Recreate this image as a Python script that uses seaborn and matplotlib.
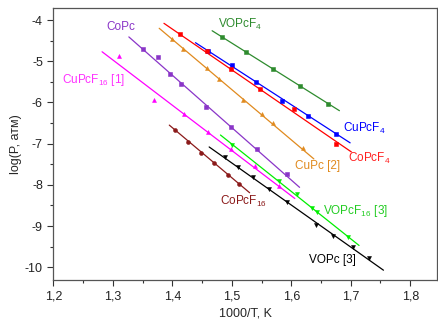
import numpy as np
import pandas as pd
import matplotlib
matplotlib.use("Agg")
import matplotlib.pyplot as plt
import seaborn as sns
from matplotlib.ticker import MultipleLocator, FuncFormatter

sns.set_style("ticks")
plt.rcParams['font.family'] = ['Liberation Sans', 'DejaVu Sans']
plt.rcParams['mathtext.fontset'] = 'custom'
plt.rcParams['mathtext.rm'] = 'Liberation Sans'
plt.rcParams['mathtext.it'] = 'Liberation Sans'

# ---- data ----
series_names = ["VOPcF4", "CuPcF4", "CoPcF4", "CuPc [2]", "CoPc",
                "CuPcF16 [1]", "CoPcF16", "VOPcF16 [3]", "VOPc [3]"]

vopcf4_x = [1.484, 1.524, 1.569, 1.615, 1.662]
vopcf4_y = [-4.42, -4.78, -5.19, -5.60, -6.03]

cupcf4_x = [1.460, 1.500, 1.541, 1.585, 1.628, 1.676]
cupcf4_y = [-4.75, -5.10, -5.50, -5.96, -6.32, -6.77]

copcf4_x = [1.413, 1.458, 1.498, 1.547, 1.605, 1.676]
copcf4_y = [-4.35, -4.75, -5.19, -5.68, -6.16, -7.01]

cupc_x = [1.400, 1.418, 1.459, 1.479, 1.519, 1.550, 1.569, 1.620]
cupc_y = [-4.47, -4.71, -5.17, -5.43, -5.94, -6.27, -6.51, -7.11]

copc_x = [1.351, 1.376, 1.396, 1.415, 1.457, 1.499, 1.543, 1.593]
copc_y = [-4.71, -4.89, -5.31, -5.55, -6.10, -6.60, -7.14, -7.73]

cupcf16_x = [1.310, 1.370, 1.419, 1.460, 1.498, 1.539, 1.579]
cupcf16_y = [-4.87, -5.93, -6.29, -6.71, -7.14, -7.54, -8.03]

copcf16_x = [1.405, 1.427, 1.449, 1.470, 1.494, 1.512]
copcf16_y = [-6.67, -6.95, -7.22, -7.48, -7.76, -7.98]

vopcf16_x = [1.501, 1.580, 1.609, 1.635, 1.644, 1.695]
vopcf16_y = [-7.03, -7.90, -8.23, -8.56, -8.65, -9.27]

vopc_x = [1.488, 1.510, 1.535, 1.562, 1.593, 1.642, 1.671, 1.703, 1.731]
vopc_y = [-7.33, -7.57, -7.82, -8.11, -8.42, -8.98, -9.24, -9.51, -9.77]

# fitted-line end points (x0, x1, y0, y1)
fit_x0 = [1.467, 1.439, 1.386, 1.378, 1.327, 1.282, 1.395, 1.481, 1.462]
fit_x1 = [1.681, 1.699, 1.701, 1.638, 1.614, 1.606, 1.530, 1.714, 1.755]
fit_y0 = [-4.26, -4.55, -4.08, -4.20, -4.41, -4.77, -6.55, -6.79, -7.08]
fit_y1 = [-6.20, -6.98, -7.20, -7.37, -8.06, -8.33, -8.19, -9.47, -10.07]

labels = [r"VOPcF$_4$", r"CuPcF$_4$", r"CoPcF$_4$", "CuPc [2]", "CoPc",
          r"CuPcF$_{16}$ [1]", r"CoPcF$_{16}$", r"VOPcF$_{16}$ [3]", "VOPc [3]"]
label_x = [1.477, 1.687, 1.695, 1.607, 1.290, 1.214, 1.481, 1.654, 1.630]
label_y = [-4.10, -6.63, -7.36, -7.54, -4.17, -5.46, -8.39, -8.63, -9.83]

colors = ["#2e8b2e", "#0000ff", "#ff0000", "#e08a1e", "#8a35c8",
          "#ff00ff", "#8b1a1a", "#00ee00", "#000000"]
label_colors = ["#2e8b2e", "#0000ff", "#ff2020", "#e08a1e", "#8a35c8",
                "#ff30ff", "#8b1a1a", "#22cc22", "#000000"]
markers = ["s", "s", "s", "^", "s", "^", "o", "v", "v"]

xs = [vopcf4_x, cupcf4_x, copcf4_x, cupc_x, copc_x, cupcf16_x, copcf16_x, vopcf16_x, vopc_x]
ys = [vopcf4_y, cupcf4_y, copcf4_y, cupc_y, copc_y, cupcf16_y, copcf16_y, vopcf16_y, vopc_y]

# ---- plot ----
fig = plt.figure(figsize=(4.38, 3.23), dpi=100)
ax = fig.add_axes([0.1217, 0.1316, 0.876, 0.8434])

for i, name in enumerate(series_names):
    line_df = pd.DataFrame({"x": [fit_x0[i], fit_x1[i]], "y": [fit_y0[i], fit_y1[i]]})
    sns.lineplot(data=line_df, x="x", y="y", ax=ax, color=colors[i], lw=0.9,
                 legend=False, sort=False)
    pts = pd.DataFrame({"x": xs[i], "y": ys[i]})
    sns.scatterplot(data=pts, x="x", y="y", ax=ax, color=colors[i], marker=markers[i],
                    s=8, edgecolor=colors[i], linewidth=0.4, legend=False, zorder=3)
    ax.text(label_x[i], label_y[i], labels[i], color=label_colors[i], fontsize=8.5,
            ha="left", va="center")

ax.set_xlim(1.2, 1.845)
ax.set_ylim(-10.32, -3.71)
ax.xaxis.set_major_locator(MultipleLocator(0.1))
ax.xaxis.set_minor_locator(MultipleLocator(0.05))
ax.yaxis.set_major_locator(MultipleLocator(1))
ax.yaxis.set_minor_locator(MultipleLocator(0.5))
ax.xaxis.set_major_formatter(FuncFormatter(lambda v, p: f"{v:.1f}".replace(".", ",")))
ax.yaxis.set_major_formatter(FuncFormatter(lambda v, p: f"{v:.0f}".replace("\u2212", "-")))
ax.tick_params(axis="both", which="major", direction="out", length=4, width=0.8,
               labelsize=9, colors="#333333", labelcolor="#222222")
ax.tick_params(axis="both", which="minor", direction="out", length=2.5, width=0.8,
               colors="#333333")
for sp in ax.spines.values():
    sp.set_visible(True)
    sp.set_linewidth(0.9)
    sp.set_color("#555555")
ax.set_xlabel("1000/T, K", fontsize=9, labelpad=3)
ax.set_ylabel("log(P, атм)", fontsize=9, labelpad=2)

fig.savefig("out.png", dpi=100)
